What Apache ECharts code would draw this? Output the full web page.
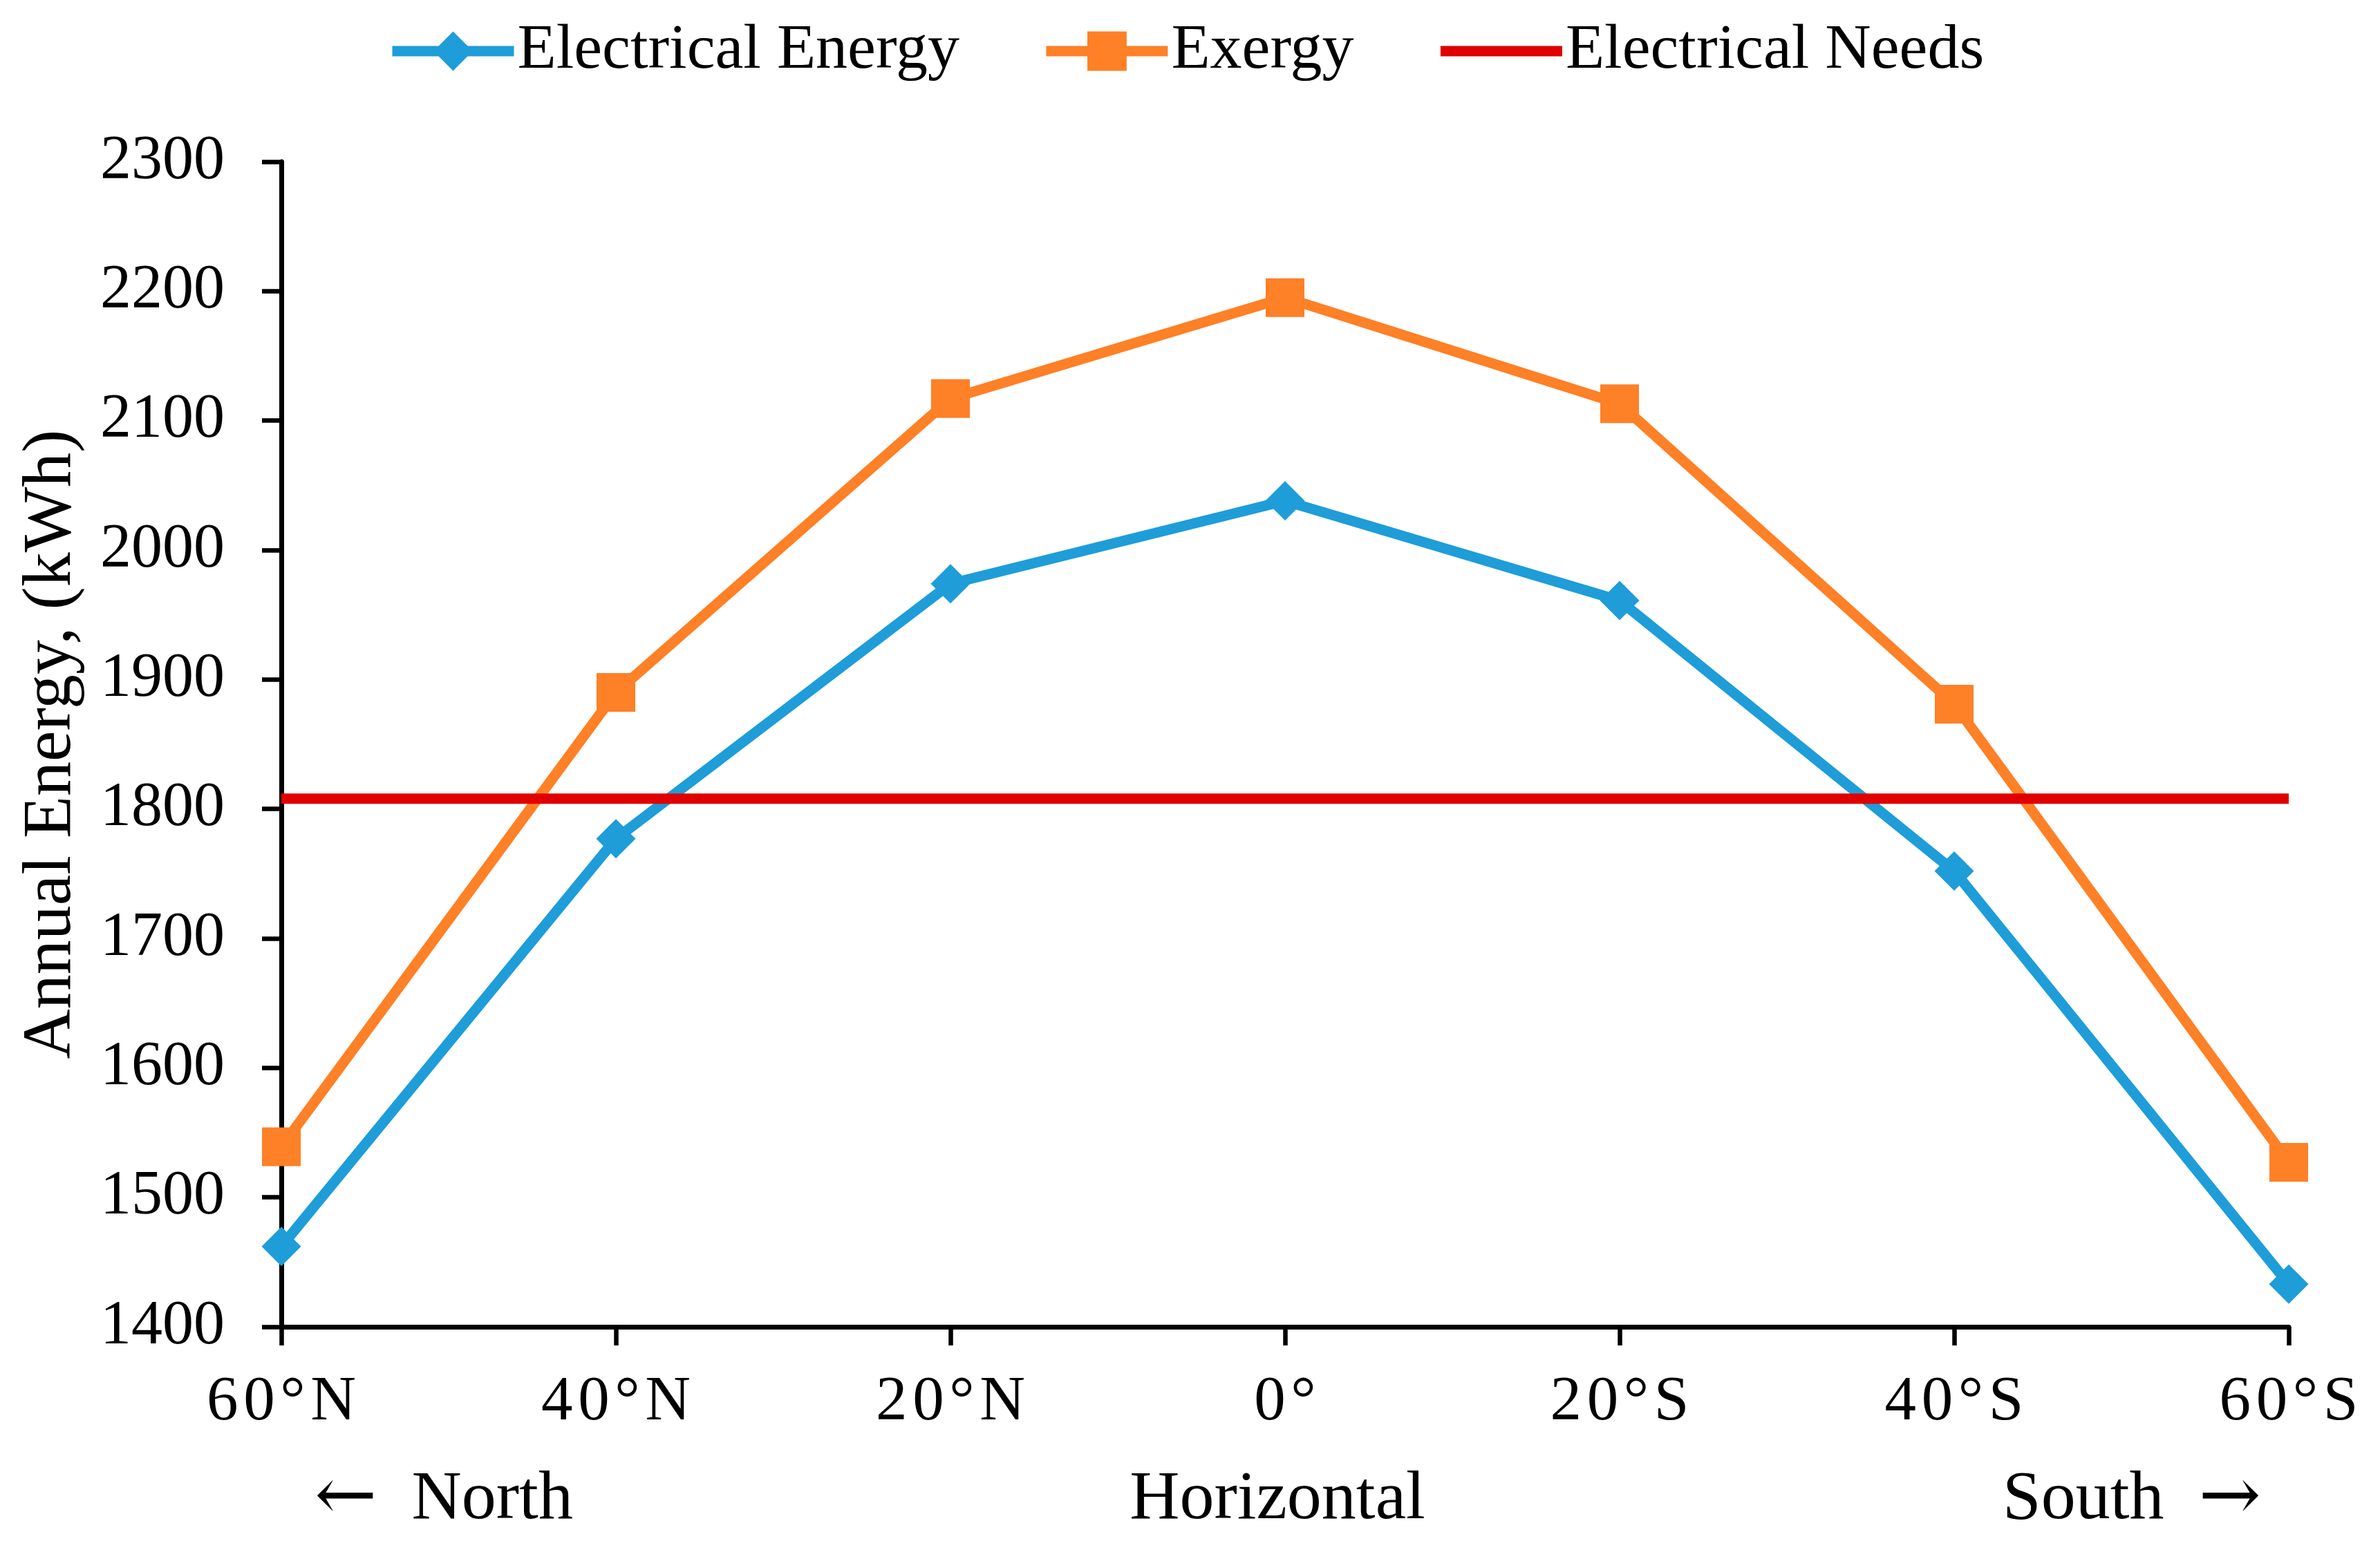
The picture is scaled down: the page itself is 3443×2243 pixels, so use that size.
<!DOCTYPE html>
<html>
<head>
<meta charset="utf-8">
<script src="https://cdn.jsdelivr.net/npm/echarts@6/dist/echarts.min.js"></script>
<style>
html,body{margin:0;padding:0;background:#fff;}
#chart{width:3443px;height:2243px;}
</style>
</head>
<body>
<div id="chart"></div>
<script>
var categories = ['60°N', '40°N', '20°N', '0°', '20°S', '40°S', '60°S'];
var electricalEnergy = [1462, 1777, 1974, 2038, 1961, 1752, 1433];
var exergy = [1539, 1890, 2117, 2195, 2113, 1881, 1527];
var electricalNeeds = [1808, 1808, 1808, 1808, 1808, 1808, 1808];
var yMin = 1400, yMax = 2300, yStep = 100;
var yAxisTitle = 'Annual Energy, (kWh)';
var directionLabels = ['{a|\u2190}  North', 'Horizontal', 'South  {a|\u2192}'];

var FONT = 'Liberation Serif';
var chart = echarts.init(document.getElementById('chart'), null, {renderer: 'canvas'});

function spaced(s) { return s.split('').join('\u200A'); }

var arrowRich = {a: {fontFamily: 'DejaVu Serif', fontSize: 108, fill: '#000'}};

var option = {
  backgroundColor: '#ffffff',
  animation: false,
  textStyle: {fontFamily: FONT, color: '#000'},
  legend: {
    top: 23,
    left: 555,
    itemWidth: 176,
    itemHeight: 71,
    itemGap: 118,
    lineStyle: {width: 15},
    textStyle: {fontFamily: FONT, fontSize: 92, color: '#000'},
    data: [
      {name: 'Electrical Energy'},
      {name: 'Exergy'},
      {name: 'Electrical Needs', itemStyle: {opacity: 0}}
    ]
  },
  grid: {left: 407, right: 132, top: 234, bottom: 323, containLabel: false, outerBoundsMode: 'none'},
  xAxis: {
    type: 'category',
    data: categories,
    boundaryGap: false,
    axisLine: {show: true, lineStyle: {color: '#000', width: 7}},
    axisTick: {show: true, alignWithLabel: true, length: 27, lineStyle: {color: '#000', width: 6.5}},
    axisLabel: {
      fontFamily: FONT, fontSize: 91, color: '#000', margin: 65,
      formatter: function (v) { return spaced(v); }
    },
    splitLine: {show: false}
  },
  yAxis: {
    type: 'value',
    min: yMin, max: yMax, interval: yStep,
    name: yAxisTitle,
    nameLocation: 'middle',
    nameGap: 282,
    nameMoveOverlap: false,
    nameTextStyle: {fontFamily: FONT, fontSize: 100, color: '#000'},
    axisLine: {show: true, lineStyle: {color: '#000', width: 7}},
    axisTick: {show: true, length: 28, lineStyle: {color: '#000', width: 6.5}},
    axisLabel: {fontFamily: FONT, fontSize: 90, color: '#000', margin: 82,
      formatter: function (v) { return String(v); }},
    splitLine: {show: false}
  },
  series: [
    {
      name: 'Electrical Energy', type: 'line', data: electricalEnergy,
      symbol: 'diamond', symbolSize: 57,
      lineStyle: {color: '#1E9DD8', width: 15},
      itemStyle: {color: '#1E9DD8'}
    },
    {
      name: 'Exergy', type: 'line', data: exergy,
      symbol: 'rect', symbolSize: 56,
      lineStyle: {color: '#FE8027', width: 15},
      itemStyle: {color: '#FE8027'}
    },
    {
      name: 'Electrical Needs', type: 'line', data: electricalNeeds,
      symbol: 'none',
      lineStyle: {color: '#E00000', width: 15},
      itemStyle: {color: '#E00000'}
    }
  ],
  graphic: [
    {type: 'text', style: {text: directionLabels[0], rich: arrowRich, x: 642, y: 2171, textAlign: 'center', textVerticalAlign: 'middle', font: '100px "Liberation Serif"', fill: '#000'}},
    {type: 'text', style: {text: directionLabels[1], x: 1848, y: 2171, textAlign: 'center', textVerticalAlign: 'middle', font: '100px "Liberation Serif"', fill: '#000'}},
    {type: 'text', style: {text: directionLabels[2], rich: arrowRich, x: 3084, y: 2171, textAlign: 'center', textVerticalAlign: 'middle', font: '100px "Liberation Serif"', fill: '#000'}}
  ]
};
chart.setOption(option);
</script>
</body>
</html>
